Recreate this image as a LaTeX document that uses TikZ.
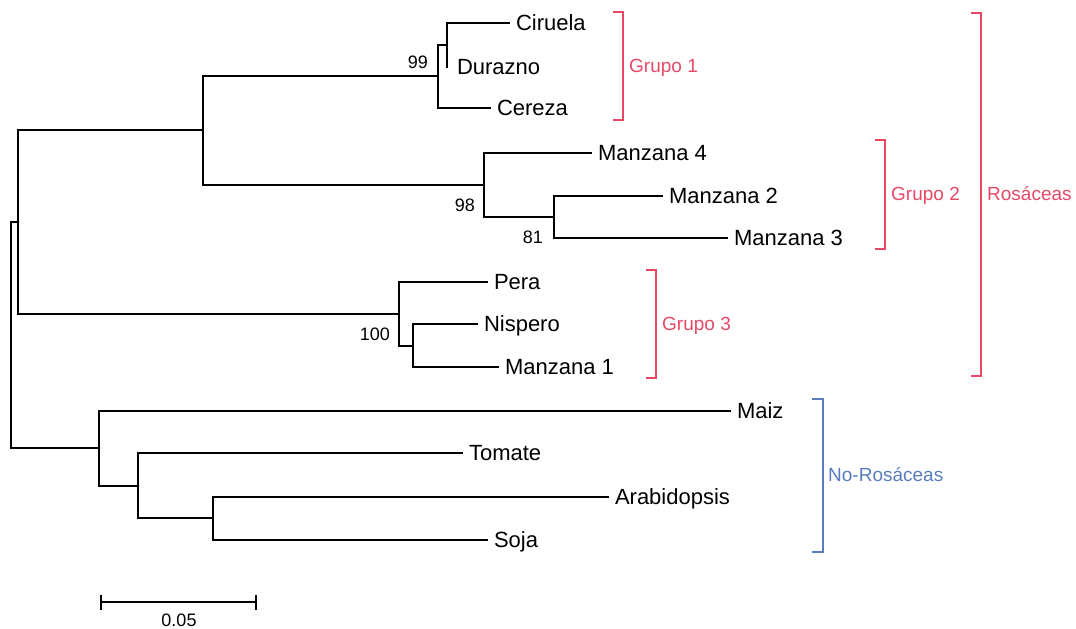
\documentclass[tikz,border=0pt]{standalone}
\usepackage{fontspec}
\setmainfont{Liberation Sans}
\definecolor{rosa}{RGB}{232,72,102}
\definecolor{azul}{RGB}{88,124,190}
\begin{document}
\begin{tikzpicture}[x=1pt,y=-1pt,
  leaf/.style={anchor=west, inner xsep=7pt, inner ysep=0pt, outer sep=0pt,
    text height=15.75pt, text depth=0pt, font=\fontsize{22}{24}\selectfont},
  boot/.style={anchor=east, inner sep=0pt, text height=12.9pt, text depth=0pt,
    font=\fontsize{18}{20}\selectfont},
  grp/.style={anchor=west, inner sep=0pt, text height=13.6pt, text depth=0pt,
    font=\fontsize{19}{21}\selectfont},
  bracket/.style={line width=1.3pt},
  branch/.style={line width=1.3pt, line cap=rect}]
\useasboundingbox (0,0) rectangle (1076,629);

% internal nodes
\coordinate (r) at (11,335);
\coordinate (ros) at (18,222);
\coordinate (a) at (203,130);
\coordinate (g1) at (438,76);
\coordinate (cd) at (447,45);
\coordinate (g2) at (484,185);
\coordinate (n81) at (554,217);
\coordinate (g3) at (399,314);
\coordinate (pn) at (413,346);
\coordinate (non) at (99,448);
\coordinate (t) at (138,486);
\coordinate (as) at (213,518);

% leaves
\node[leaf] (cir) at (509,23) {Ciruela};
\node[leaf, inner xsep=10pt] (dur) at (447,67) {Durazno};
\node[leaf] (cer) at (490,108) {Cereza};
\node[leaf] (m4) at (591,153) {Manzana 4};
\node[leaf] (m2) at (662,196) {Manzana 2};
\node[leaf] (m3) at (727,238) {Manzana 3};
\node[leaf] (per) at (487,282) {Pera};
\node[leaf] (nis) at (477,324) {Nispero};
\node[leaf] (m1) at (498,367) {Manzana 1};
\node[leaf] (mai) at (730,411) {Maiz};
\node[leaf] (tom) at (462,453) {Tomate};
\node[leaf] (ara) at (608,497) {Arabidopsis};
\node[leaf] (soj) at (487,540) {Soja};

% branches
\draw[branch] (ros) -| (r) |- (non);
\draw[branch] (a) -| (ros) |- (g3);
\draw[branch] (g1) -| (a) |- (g2);
\draw[branch] (cd) -| (g1) |- (cer.west);
\draw[branch] (cir.west) -| (cd) |- (dur.west);
\draw[branch] (m4.west) -| (g2) |- (n81);
\draw[branch] (m2.west) -| (n81) |- (m3.west);
\draw[branch] (per.west) -| (g3) |- (pn);
\draw[branch] (nis.west) -| (pn) |- (m1.west);
\draw[branch] (mai.west) -| (non) |- (t);
\draw[branch] (tom.west) -| (t) |- (as);
\draw[branch] (ara.west) -| (as) |- (soj.west);

% bootstrap values
\node[boot] (b99) at (428,62) {99};
\node[boot] (b98) at (475,205) {98};
\node[boot] (b81) at (543,237) {81};
\node[boot] (b100) at (390,334) {100};

% scale bar
\coordinate (sb1) at (101,602);
\coordinate (sb2) at (256,602);
\draw[line width=1.2pt] (sb1) -- (sb2);
\draw[line width=1.2pt] ([yshift=-7.5pt]sb1) -- ([yshift=7.5pt]sb1);
\draw[line width=1.2pt] ([yshift=-7.5pt]sb2) -- ([yshift=7.5pt]sb2);
\node[inner sep=0pt, text height=12.9pt, text depth=0pt, font=\fontsize{18}{20}\selectfont] (sbl) at (179,620) {0.05};

% brackets
\draw[bracket, rosa] (613,12) -- (623,12) -- (623,120) -- (613,120);
\node[grp, text=rosa] (lg1) at (629,66) {Grupo 1};
\draw[bracket, rosa] (875,140) -- (885,140) -- (885,249) -- (875,249);
\node[grp, text=rosa] (lg2) at (891,194) {Grupo 2};
\draw[bracket, rosa] (646,270) -- (656,270) -- (656,378) -- (646,378);
\node[grp, text=rosa] (lg3) at (662,324) {Grupo 3};
\draw[bracket, rosa] (971,13) -- (981,13) -- (981,376) -- (971,376);
\node[grp, text=rosa] (lros) at (987,194) {Rosáceas};
\draw[bracket, azul] (812,399) -- (823,399) -- (823,552) -- (812,552);
\node[grp, text=azul] (lnon) at (828,475) {No-Rosáceas};
\end{tikzpicture}
\end{document}
